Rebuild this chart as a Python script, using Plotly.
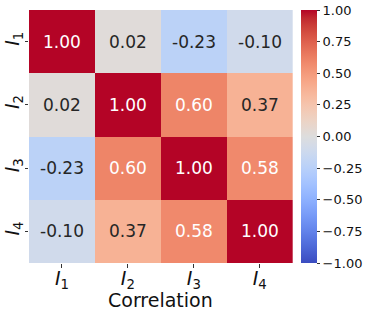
import plotly.graph_objects as go

labels = ["<i>I</i><sub>1</sub>", "<i>I</i><sub>2</sub>", "<i>I</i><sub>3</sub>", "<i>I</i><sub>4</sub>"]
corr = [
    [1.00, 0.02, -0.23, -0.10],
    [0.02, 1.00, 0.60, 0.37],
    [-0.23, 0.60, 1.00, 0.58],
    [-0.10, 0.37, 0.58, 1.00],
]
x_title = "Correlation"
cbar_vals = [-1.0, -0.75, -0.5, -0.25, 0.0, 0.25, 0.5, 0.75, 1.0]
cbar_text = [("−%.2f" % -v) if v < 0 else ("%.2f" % v) for v in cbar_vals]

coolwarm_rgb = [
    (59, 76, 192), (68, 90, 204), (77, 104, 215), (87, 117, 225), (98, 130, 234),
    (108, 142, 241), (119, 154, 247), (130, 165, 251), (141, 176, 254), (152, 185, 255),
    (163, 194, 255), (174, 201, 253), (184, 208, 249), (194, 213, 244), (204, 217, 238),
    (213, 219, 230), (221, 221, 221), (229, 216, 209), (236, 211, 197), (241, 204, 185),
    (245, 196, 173), (247, 187, 160), (247, 177, 148), (247, 166, 135), (244, 154, 123),
    (241, 141, 111), (236, 127, 99), (229, 112, 88), (222, 96, 77), (213, 80, 66),
    (203, 62, 56), (192, 40, 47), (180, 4, 38),
]
n = len(coolwarm_rgb) - 1
colorscale = [[i / n, "rgb(%d,%d,%d)" % c] for i, c in enumerate(coolwarm_rgb)]

fig = go.Figure()
fig.add_trace(go.Heatmap(
    z=corr, x=labels, y=labels, zmin=-1, zmax=1, colorscale=colorscale,
    showscale=True, hoverinfo="skip",
    colorbar=dict(
        x=0.944, xanchor="left", xpad=0, ypad=0, y=0.5, yanchor="middle",
        len=1, lenmode="fraction", thickness=16, outlinewidth=0,
        tickvals=cbar_vals, ticktext=cbar_text, ticks="outside", ticklen=3.5,
        tickwidth=1, tickcolor="#333",
        tickfont=dict(family="DejaVu Sans", size=13, color="#111"),
    ),
))

annotations = []
for i, row in enumerate(corr):
    for j, v in enumerate(row):
        color = "white" if abs(v) > 0.45 else "#262626"
        annotations.append(dict(
            x=labels[j], y=labels[i], xref="x", yref="y", text="%.2f" % v,
            showarrow=False, font=dict(family="DejaVu Sans", size=17, color=color),
        ))
annotations.append(dict(
    x=0.5, y=-0.148, xref="x domain", yref="paper", xanchor="center", yanchor="middle",
    text=x_title, showarrow=False, font=dict(family="DejaVu Sans", size=19, color="#111"),
))

fig.update_layout(
    width=369, height=315,
    margin=dict(l=29, r=52, t=10, b=52, autoexpand=False),
    paper_bgcolor="white", plot_bgcolor="white",
    annotations=annotations,
    xaxis=dict(domain=[0, 0.9156], ticks="outside", ticklen=3.5, tickwidth=1, tickcolor="#333",
               automargin=False, ticklabelstandoff=-5,
               tickfont=dict(family="DejaVu Sans", size=19, color="#111"), showgrid=False,
               zeroline=False, showline=False),
    yaxis=dict(autorange="reversed", ticks="outside", ticklen=3.5, tickwidth=1, tickcolor="#333",
               automargin=False, ticklabelstandoff=-2,
               tickangle=-90, tickfont=dict(family="DejaVu Sans", size=19, color="#111"),
               showgrid=False, zeroline=False, showline=False),
)

fig.write_html("out.html", config={"displayModeBar": False},
               post_script="document.body.style.margin='0';")
